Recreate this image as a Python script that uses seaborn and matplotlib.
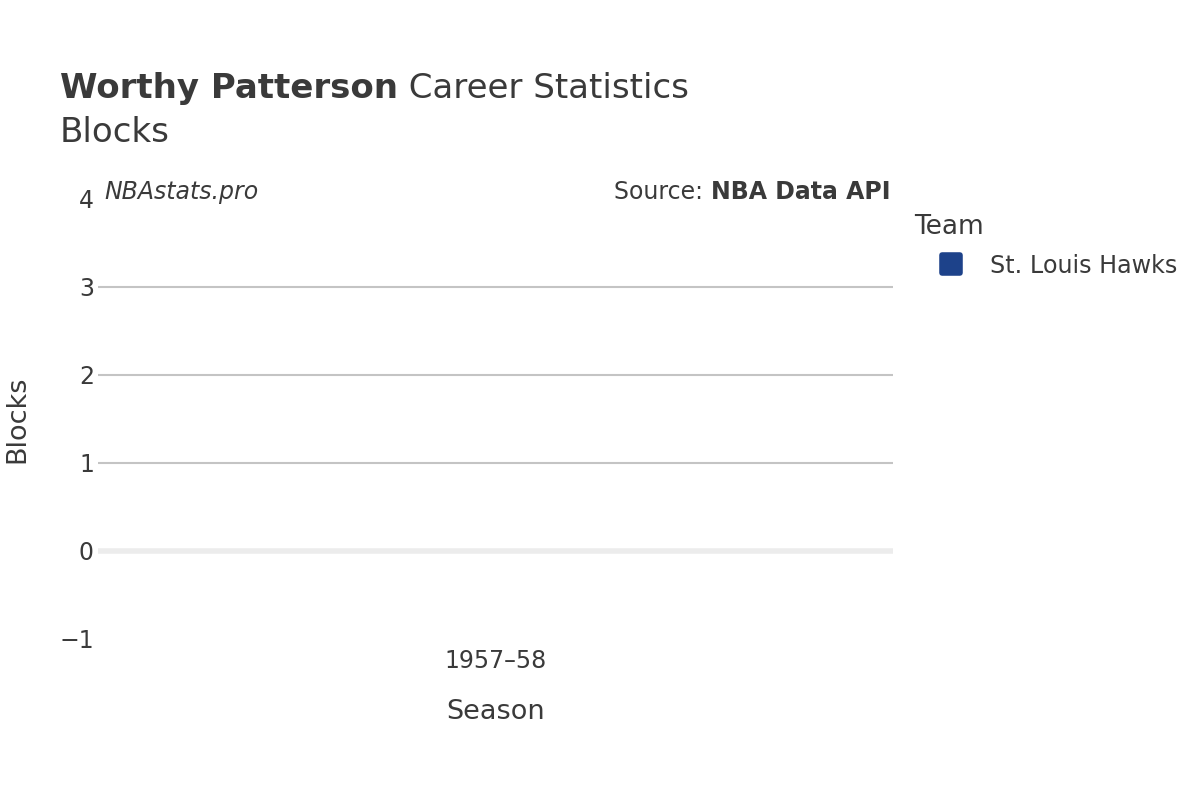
import matplotlib
matplotlib.use("Agg")
import matplotlib.pyplot as plt
from matplotlib.lines import Line2D
from matplotlib.markers import MarkerStyle
import pandas as pd
import seaborn as sns

# data
seasons = ["1957–58"]
teams = ["St. Louis Hawks"]
blocks = [0]
team_colors = {"St. Louis Hawks": "#1d428a"}

player = "Worthy Patterson"
stat_name = "Blocks"

df = pd.DataFrame({"Season": seasons, "Team": teams, "Blocks": blocks})

sns.set_theme(style="white")
plt.rcParams["font.family"] = ["DejaVu Sans"]
text_color = "#3a3a3a"

fig = plt.figure(figsize=(12, 8), dpi=100)
ax = fig.add_axes([0.0817, 0.20125, 0.6625, 0.55])

sns.barplot(data=df, x="Season", y="Blocks", hue="Team", palette=team_colors,
            ax=ax, legend=False, width=0.8, linewidth=0)

ax.set_ylim(-1, 4)
ax.set_yticks([-1, 0, 1, 2, 3, 4])
ax.set_yticklabels(["−1", "0", "1", "2", "3", "4"])
for y in [1, 2, 3]:
    ax.axhline(y, color="#c4c4c4", lw=1.5, zorder=0)
ax.axhline(0, color="#ececec", lw=4, zorder=0)

for s in ax.spines.values():
    s.set_visible(False)
ax.tick_params(axis="both", length=0, labelsize=17, colors=text_color)
ax.tick_params(axis="x", pad=7)
ax.tick_params(axis="y", pad=3)

ax.set_xlabel("Season", fontsize=19.5, color=text_color, va="center")
ax.xaxis.set_label_coords(0.5, -0.366 + 0.2)
ax.set_ylabel("Blocks", fontsize=19.5, color=text_color, va="center")
ax.yaxis.set_label_coords(-0.102, 0.5)

# title: bold name followed by regular text
fig.canvas.draw()
r = fig.canvas.get_renderer()
t1 = fig.text(0.05, 0.889, player, fontsize=24.5, fontweight="bold",
              color=text_color, va="center")
bb = t1.get_window_extent(renderer=r)
fig.text(bb.x1 / 1200, 0.889, " Career Statistics", fontsize=24.5,
         color=text_color, va="center")
fig.text(0.05, 0.834, stat_name, fontsize=24.5, color=text_color, va="center")

# annotations
fig.text(0.0867, 0.76, "NBAstats.pro", fontsize=17, style="italic",
         color=text_color, va="center")
t2 = fig.text(0.742, 0.76, "NBA Data API", fontsize=17, fontweight="bold",
              color=text_color, va="center", ha="right")
bb = t2.get_window_extent(renderer=r)
fig.text(bb.x0 / 1200, 0.76, "Source: ", fontsize=17, color=text_color,
         va="center", ha="right")

# legend
fig.text(0.762, 0.716, "Team", fontsize=19, color=text_color, va="center")
handles = [Line2D([], [], linestyle="none",
                  marker=MarkerStyle("s", joinstyle="round"),
                  markersize=13, markeredgewidth=4,
                  markerfacecolor=team_colors[t], markeredgecolor=team_colors[t])
           for t in teams]
leg = fig.legend(handles, teams, loc="center left", bbox_to_anchor=(0.759, 0.668),
                 frameon=False, fontsize=17.2, handletextpad=0.8,
                 handlelength=1.6, labelcolor=text_color)

fig.savefig("out.png", dpi=100, facecolor="white")
